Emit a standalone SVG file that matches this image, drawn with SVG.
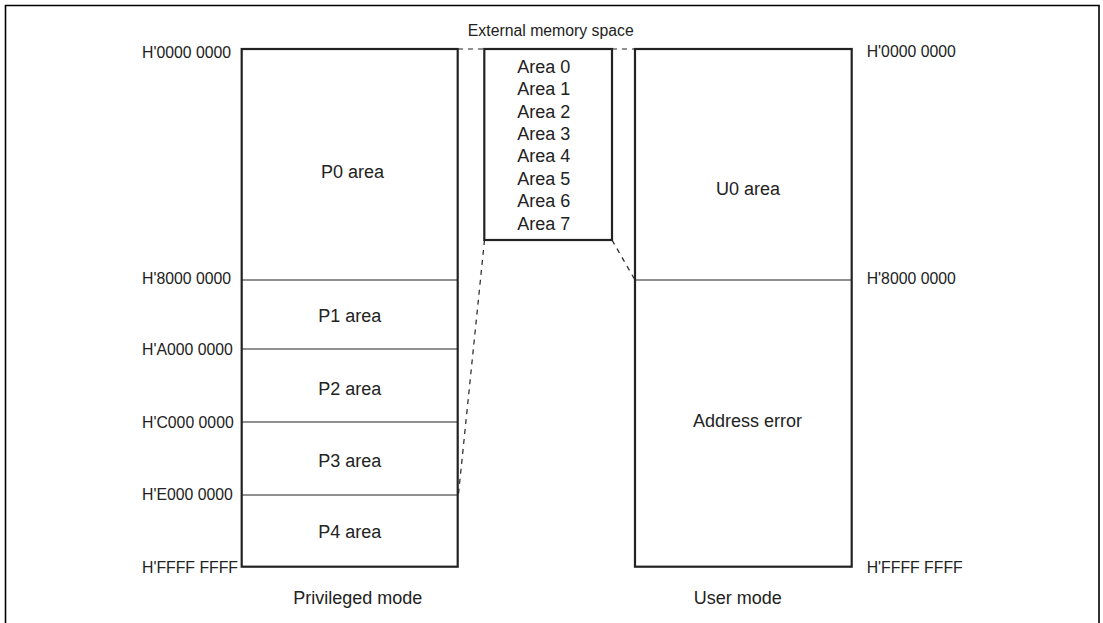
<svg xmlns="http://www.w3.org/2000/svg" width="1103" height="623" viewBox="0 0 1103 623">
<style>
  text { font-family: "Liberation Sans", Arial, sans-serif; fill: #222; }
  .lbl { font-size: 18px; text-anchor: middle; }
  .addr { font-size: 15.8px; }
  .small { font-size: 15.8px; text-anchor: middle; }
  .box { fill: #fff; stroke: #222; stroke-width: 2.2; }
  .div { stroke: #222; stroke-width: 1.1; fill: none; }
  .dash { stroke: #222; stroke-width: 1.2; fill: none; stroke-dasharray: 5 5; }
</style>
<rect x="0" y="0" width="1103" height="623" fill="#fff"/>
<path d="M5.5 630 V5.5 H1099 V630" fill="none" stroke="#000" stroke-width="1.6"/>

<g id="connectors">
  <line class="dash" x1="458" y1="49" x2="484" y2="49"/>
  <line class="dash" x1="612" y1="49" x2="635" y2="49"/>
  <line class="dash" x1="484.5" y1="240" x2="458.5" y2="494"/>
  <line class="dash" x1="612" y1="240" x2="635" y2="280"/>
</g>

<g id="privileged">
  <rect class="box" x="241.7" y="49" width="216" height="517.7"/>
  <line class="div" x1="241.7" y1="280" x2="457.7" y2="280"/>
  <line class="div" x1="241.7" y1="349" x2="457.7" y2="349"/>
  <line class="div" x1="241.7" y1="422" x2="457.7" y2="422"/>
  <line class="div" x1="241.7" y1="495" x2="457.7" y2="495"/>
  <text class="lbl" x="352.5" y="177.7">P0 area</text>
  <text class="lbl" x="349.7" y="321.7">P1 area</text>
  <text class="lbl" x="349.7" y="395">P2 area</text>
  <text class="lbl" x="349.7" y="466.7">P3 area</text>
  <text class="lbl" x="349.7" y="538.3">P4 area</text>
  <text class="lbl" x="357.8" y="604">Privileged mode</text>
  <text class="addr" x="142" y="57.5">H'0000 0000</text>
  <text class="addr" x="142" y="284">H'8000 0000</text>
  <text class="addr" x="142" y="355">H'A000 0000</text>
  <text class="addr" x="142" y="427.5">H'C000 0000</text>
  <text class="addr" x="142" y="500">H'E000 0000</text>
  <text class="addr" x="142" y="573.3">H'FFFF FFFF</text>
</g>

<g id="external">
  <text class="small" x="550.8" y="36">External memory space</text>
  <rect class="box" x="484.3" y="49" width="127.7" height="191"/>
  <text class="lbl" x="543.7" y="72.7">Area 0</text>
  <text class="lbl" x="543.7" y="95.1">Area 1</text>
  <text class="lbl" x="543.7" y="117.5">Area 2</text>
  <text class="lbl" x="543.7" y="139.9">Area 3</text>
  <text class="lbl" x="543.7" y="162.3">Area 4</text>
  <text class="lbl" x="543.7" y="184.7">Area 5</text>
  <text class="lbl" x="543.7" y="207.1">Area 6</text>
  <text class="lbl" x="543.7" y="229.5">Area 7</text>
</g>

<g id="user">
  <rect class="box" x="635" y="49" width="216.7" height="517.7"/>
  <line class="div" x1="635" y1="280" x2="851.7" y2="280"/>
  <text class="lbl" x="748" y="195">U0 area</text>
  <text class="lbl" x="747.5" y="426.7">Address error</text>
  <text class="lbl" x="737.7" y="604.3">User mode</text>
  <text class="addr" x="866.7" y="57.3">H'0000 0000</text>
  <text class="addr" x="866.7" y="284">H'8000 0000</text>
  <text class="addr" x="866.7" y="573.3">H'FFFF FFFF</text>
</g>
</svg>
